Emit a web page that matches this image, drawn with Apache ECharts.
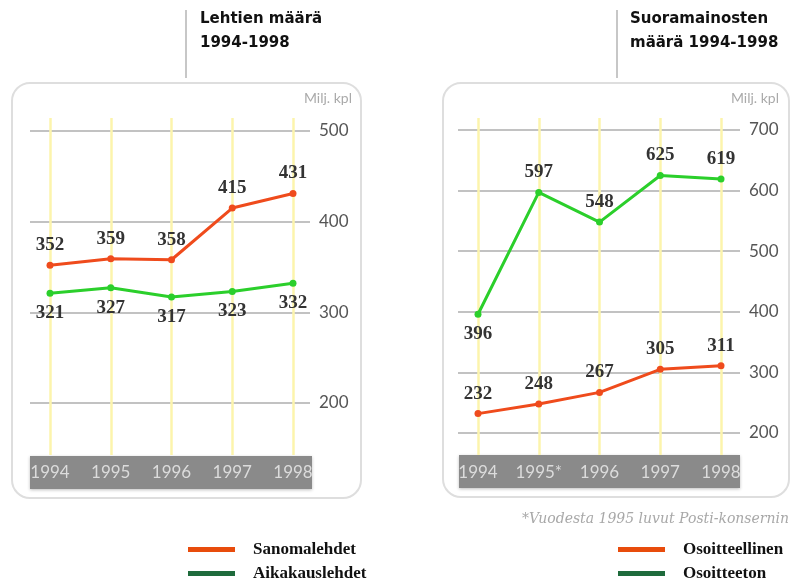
<!DOCTYPE html>
<html>
<head>
<meta charset="utf-8">
<script src="https://cdn.jsdelivr.net/npm/echarts@6/dist/echarts.min.js"></script>
<style>
  html, body { margin: 0; padding: 0; background: #fff; }
  #chart { width: 792px; height: 580px; }
</style>
</head>
<body>
<div id="chart"></div>
<script>
// data
var years = ['1994', '1995', '1996', '1997', '1998']
var yearsSuora = ['1994', '1995*', '1996', '1997', '1998']
var sanomalehdet = [352, 359, 358, 415, 431]
var aikakauslehdet = [321, 327, 317, 323, 332]
var osoitteellinen = [232, 248, 267, 305, 311]
var osoitteeton = [396, 597, 548, 625, 619]
var lehtiTicks = [200, 300, 400, 500]
var suoraTicks = [200, 300, 400, 500, 600, 700]

var ORANGE = '#ef4b1c'
var GREEN = '#2bcf2b'
var LEG_ORANGE = '#e84c0c'
var LEG_GREEN = '#1f6b3c'
var SANS = 'Lato, "Noto Sans", sans-serif'
var SERIF = '"Liberation Serif", "DejaVu Serif", serif'

// pixel layout of the two panels
var left = { v1: 500, y1: 131, v2: 200, y2: 403 }
var right = { v1: 700, y1: 130, v2: 200, y2: 433 }
var plotTop = 118
var plotBottom = 455

function scale(p) {
  return (p.y2 - p.y1) / (p.v1 - p.v2)
}
function yOf(p, v) {
  return p.y1 + (p.v1 - v) * scale(p)
}
function dataRange(p) {
  return {
    min: p.v1 - (plotBottom - p.y1) / scale(p),
    max: p.v1 + (p.y1 - plotTop) / scale(p)
  }
}

var lMin = lehtiTicks[0] - 100
var lMax = lehtiTicks[lehtiTicks.length - 1] + 100
var rMin = suoraTicks[0] - 100
var rMax = suoraTicks[suoraTicks.length - 1] + 100
var lRange = dataRange(left)
var rRange = dataRange(right)

function bgYAxis(grid, min, max) {
  return {
    gridIndex: grid,
    type: 'value',
    position: 'right',
    min: min,
    max: max,
    interval: 100,
    axisLine: { show: false },
    axisTick: { show: false },
    axisLabel: {
      showMinLabel: false,
      showMaxLabel: false,
      margin: 9,
      color: '#555',
      fontFamily: SANS,
      fontSize: 17
    },
    splitLine: {
      show: true,
      showMinLine: false,
      showMaxLine: false,
      lineStyle: { color: '#c2c2c2', width: 2 }
    }
  }
}

function dataXAxis(grid, cats) {
  return {
    gridIndex: grid,
    type: 'category',
    data: cats,
    boundaryGap: false,
    axisLine: { show: false },
    axisTick: { show: false },
    axisLabel: {
      margin: 9,
      color: '#dcdcdc',
      fontFamily: SANS,
      fontSize: 17
    },
    splitLine: { show: true, lineStyle: { color: '#fcf4ac', width: 2.5 } }
  }
}

function lineSeries(name, data, color, xi, pos) {
  return {
    name: name,
    type: 'line',
    xAxisIndex: xi,
    yAxisIndex: xi,
    data: data,
    symbol: 'circle',
    symbolSize: 7,
    z: 5,
    lineStyle: { color: color, width: 3 },
    itemStyle: { color: color },
    label: {
      show: true,
      position: pos,
      distance: 7,
      color: '#333',
      fontFamily: SERIF,
      fontWeight: 'bold',
      fontSize: 19
    }
  }
}

function legendBox(x, names) {
  return {
    left: x,
    top: 541,
    height: 60,
    padding: 0,
    orient: 'vertical',
    itemWidth: 47,
    itemHeight: 5,
    itemGap: 7,
    selectedMode: false,
    textStyle: { fontFamily: SERIF, fontWeight: 'bold', fontSize: 17, color: '#111', padding: [0, 0, 0, 13] },
    data: [
      { name: names[0], icon: 'rect', itemStyle: { color: LEG_ORANGE } },
      { name: names[1], icon: 'rect', itemStyle: { color: LEG_GREEN } }
    ]
  }
}

var chart = echarts.init(document.getElementById('chart'))

var osoitteetonData = osoitteeton.map(function (v, i) {
  return i === 0 ? { value: v, label: { position: 'bottom' } } : v
})

var titleStyle = { fontFamily: '"DejaVu Sans", sans-serif', fontWeight: 'bold', fontSize: 15, lineHeight: 24, color: '#111' }

var option = {
  animation: false,
  title: [
    { text: 'Lehtien määrä\n1994-1998', left: 200, top: 7, padding: 0, textStyle: titleStyle },
    { text: 'Suoramainosten\nmäärä 1994-1998', left: 630, top: 7, padding: 0, textStyle: titleStyle },
    {
      text: '*Vuodesta 1995 luvut Posti-konsernin',
      right: 3,
      top: 512,
      padding: 0,
      textStyle: { fontFamily: '"DejaVu Serif", serif', fontStyle: 'italic', fontWeight: 'normal', fontSize: 14, color: '#a8a8a8' }
    }
  ],
  graphic: [
    { type: 'line', shape: { x1: 186, y1: 10, x2: 186, y2: 78 }, style: { stroke: '#b5b5b5', lineWidth: 1.5 } },
    { type: 'line', shape: { x1: 617, y1: 10, x2: 617, y2: 78 }, style: { stroke: '#b5b5b5', lineWidth: 1.5 } },
    { type: 'rect', z: -10, shape: { x: 12, y: 83, width: 349, height: 415, r: 18 }, style: { fill: '#fff', stroke: '#dedede', lineWidth: 2 } },
    { type: 'rect', z: -10, shape: { x: 443, y: 83, width: 346, height: 414, r: 18 }, style: { fill: '#fff', stroke: '#dedede', lineWidth: 2 } },
    { type: 'rect', z: -5, shape: { x: 30, y: 456, width: 282, height: 33 }, style: { fill: '#8a8a8a', shadowBlur: 3, shadowColor: 'rgba(0,0,0,0.25)', shadowOffsetY: 1 } },
    { type: 'rect', z: -5, shape: { x: 459, y: 455, width: 281, height: 33 }, style: { fill: '#8a8a8a', shadowBlur: 3, shadowColor: 'rgba(0,0,0,0.25)', shadowOffsetY: 1 } },
    { type: 'text', x: 352, y: 98, style: { text: 'Milj. kpl', fill: '#aaa', font: '14px ' + SANS, textAlign: 'right', textVerticalAlign: 'middle' } },
    { type: 'text', x: 779, y: 98, style: { text: 'Milj. kpl', fill: '#aaa', font: '14px ' + SANS, textAlign: 'right', textVerticalAlign: 'middle' } }
  ],
  legend: [
    legendBox(188, ['Sanomalehdet', 'Aikakauslehdet']),
    legendBox(618, ['Osoitteellinen', 'Osoitteeton'])
  ],
  grid: [
    { left: 30, width: 280, top: yOf(left, lMax), height: yOf(left, lMin) - yOf(left, lMax) },
    { left: 50, width: 243, top: plotTop, height: plotBottom - plotTop },
    { left: 458, width: 282, top: yOf(right, rMax), height: yOf(right, rMin) - yOf(right, rMax) },
    { left: 478, width: 243, top: plotTop, height: plotBottom - plotTop }
  ],
  xAxis: [
    { gridIndex: 0, type: 'value', show: false },
    dataXAxis(1, years),
    { gridIndex: 2, type: 'value', show: false },
    dataXAxis(3, yearsSuora)
  ],
  yAxis: [
    bgYAxis(0, lMin, lMax),
    { gridIndex: 1, type: 'value', show: false, min: lRange.min, max: lRange.max },
    bgYAxis(2, rMin, rMax),
    { gridIndex: 3, type: 'value', show: false, min: rRange.min, max: rRange.max }
  ],
  series: [
    lineSeries('Sanomalehdet', sanomalehdet, ORANGE, 1, 'top'),
    lineSeries('Aikakauslehdet', aikakauslehdet, GREEN, 1, 'bottom'),
    lineSeries('Osoitteellinen', osoitteellinen, ORANGE, 3, 'top'),
    lineSeries('Osoitteeton', osoitteetonData, GREEN, 3, 'top')
  ]
}

chart.setOption(option)
</script>
</body>
</html>
